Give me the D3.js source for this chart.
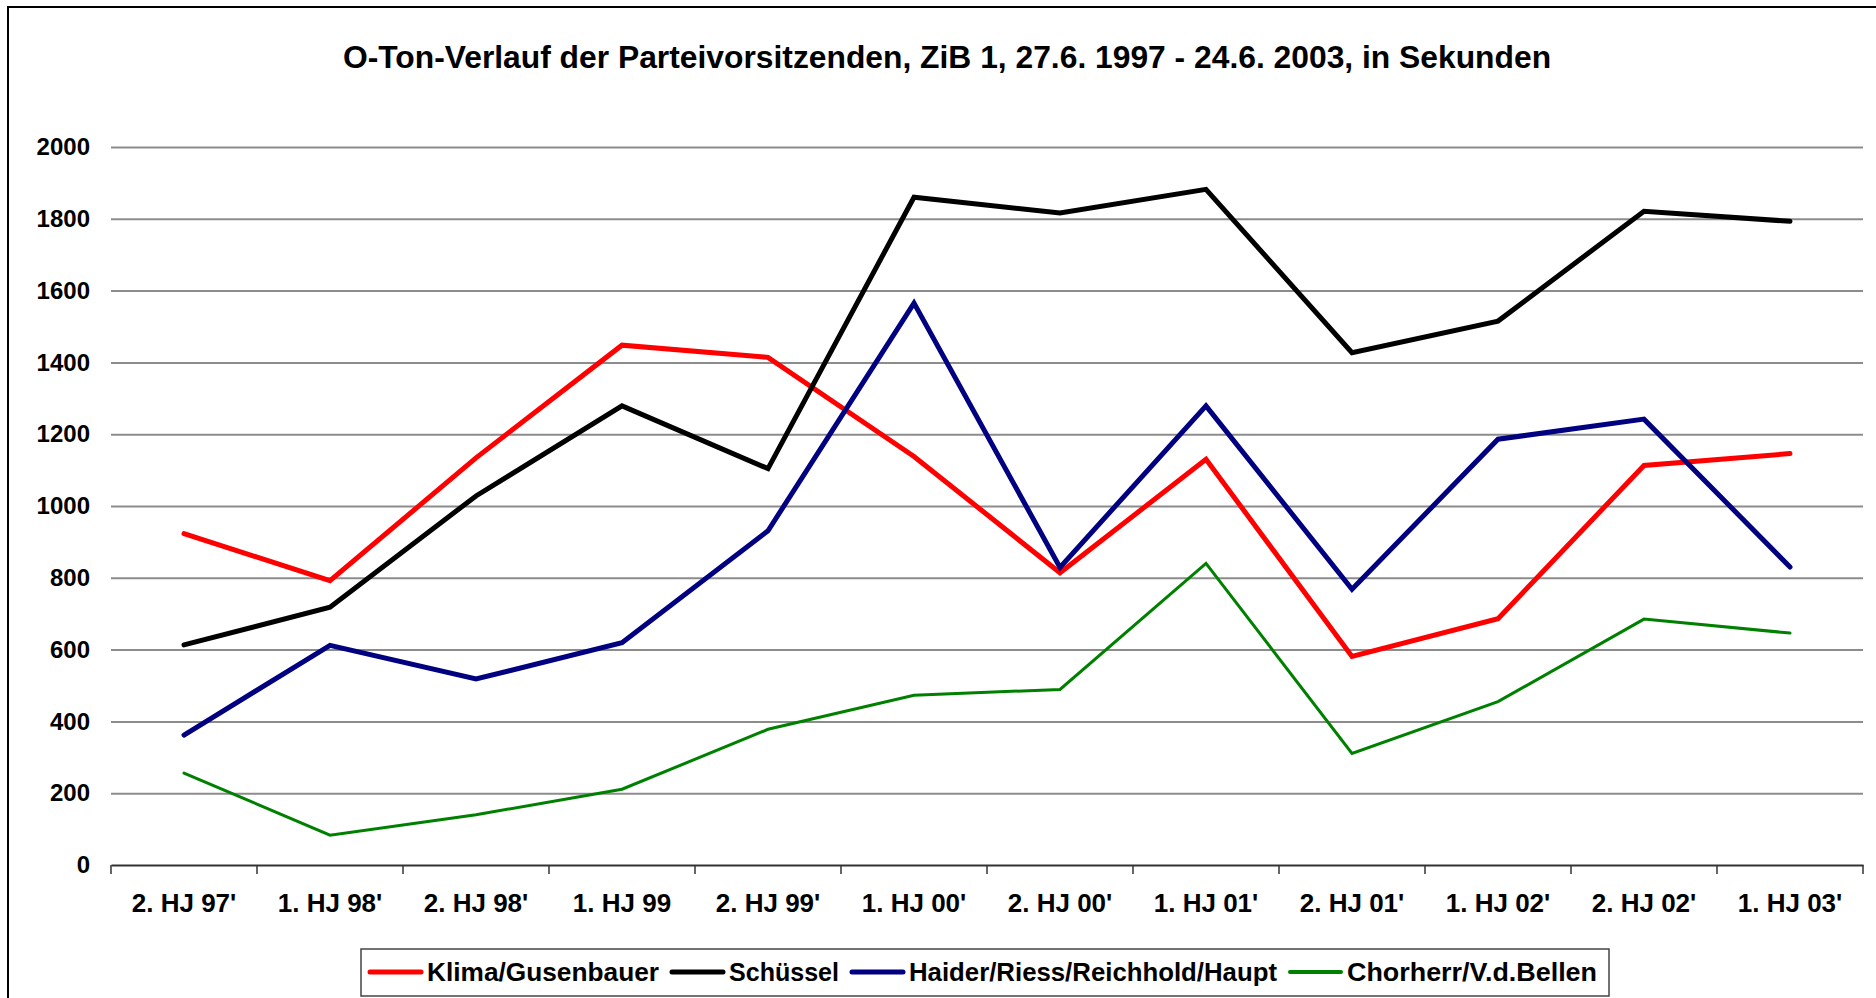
<!DOCTYPE html>
<html>
<head>
<meta charset="utf-8">
<script src="https://cdn.jsdelivr.net/npm/d3@7"></script>
<style>
  html, body { margin: 0; padding: 0; background: #fff; }
  svg { display: block; font-family: "Liberation Sans", Arial, sans-serif; }
</style>
</head>
<body>
<svg id="chart" width="1876" height="998"></svg>
<script>
const title = "O-Ton-Verlauf der Parteivorsitzenden, ZiB 1, 27.6. 1997 - 24.6. 2003, in Sekunden";
const categories = ["2. HJ 97'", "1. HJ 98'", "2. HJ 98'", "1. HJ 99", "2. HJ 99'", "1. HJ 00'", "2. HJ 00'", "1. HJ 01'", "2. HJ 01'", "1. HJ 02'", "2. HJ 02'", "1. HJ 03'"];
const yTicks = [0, 200, 400, 600, 800, 1000, 1200, 1400, 1600, 1800, 2000];

const seriesNames = ["Klima/Gusenbauer", "Schüssel", "Haider/Riess/Reichhold/Haupt", "Chorherr/V.d.Bellen"];
const seriesColors = ["#ff0000", "#000000", "#000080", "#008000"];
const seriesWidths = [5, 5, 5, 3];

const klima    = [923, 792, 1134, 1448, 1414, 1138, 814, 1130, 581, 686, 1113, 1146];
const schuessel = [613, 718, 1028, 1279, 1104, 1860, 1816, 1882, 1427, 1515, 1821, 1793];
const haider   = [362, 612, 518, 619, 931, 1565, 829, 1279, 768, 1186, 1242, 830];
const chorherr = [256, 83, 140, 211, 378, 473, 489, 840, 311, 455, 685, 646];
const seriesValues = [klima, schuessel, haider, chorherr];

(function () {
const svg = d3.select("#chart");

// outer border
svg.append("rect")
  .attr("x", 8).attr("y", 7)
  .attr("width", 1900).attr("height", 1000)
  .attr("fill", "none").attr("stroke", "#000").attr("stroke-width", 2);

const pLeft = 111, pRight = 1863, pTop = 147, pBottom = 865;

const x = d3.scaleBand().domain(categories).range([pLeft, pRight]).padding(0);
const y = d3.scaleLinear().domain([0, 2000]).range([pBottom, pTop]);

// title
svg.append("text")
  .attr("x", 947).attr("y", 68)
  .attr("text-anchor", "middle")
  .attr("font-size", 31.8).attr("font-weight", "bold")
  .attr("fill", "#000")
  .text(title);

// gridlines + y labels
const yAxis = d3.axisLeft(y).tickValues(yTicks).tickFormat(d3.format("d"))
  .tickSize(-(pRight - pLeft)).tickPadding(21);
const gy = svg.append("g").attr("transform", `translate(${pLeft},0)`).call(yAxis);
gy.select(".domain").remove();
gy.selectAll(".tick line")
  .attr("stroke", "#8c8c8c").attr("stroke-width", 2)
  .filter(d => d === 0).remove();
gy.selectAll(".tick text")
  .attr("font-size", 24).attr("font-weight", "bold")
  .attr("fill", "#000")
  .attr("font-family", "Liberation Sans, Arial, sans-serif");

// x axis: labels
const xAxis = d3.axisBottom(x).tickSize(0).tickPadding(29);
const gx = svg.append("g").attr("transform", `translate(0,${pBottom})`).call(xAxis);
gx.select(".domain").attr("stroke", "#333").attr("stroke-width", 2);
gx.selectAll(".tick text")
  .attr("font-size", 26).attr("font-weight", "bold")
  .attr("fill", "#000")
  .attr("font-family", "Liberation Sans, Arial, sans-serif");

// x tick marks at band boundaries
const boundaries = categories.map(c => x(c)).concat([x(categories[categories.length - 1]) + x.bandwidth()]);
svg.append("g").selectAll("line")
  .data(boundaries).join("line")
  .attr("x1", d => d).attr("x2", d => d)
  .attr("y1", pBottom).attr("y2", pBottom + 9)
  .attr("stroke", "#333").attr("stroke-width", 1.5);

// lines
const line = d3.line()
  .x((d, i) => x(categories[i]) + x.bandwidth() / 2)
  .y(d => y(d));

seriesValues.forEach((vals, k) => {
  svg.append("path")
    .datum(vals)
    .attr("d", line)
    .attr("fill", "none")
    .attr("stroke", seriesColors[k])
    .attr("stroke-width", seriesWidths[k])
    .attr("stroke-linejoin", "miter")
    .attr("stroke-linecap", "round");
});

// legend
const legendTextWidths = [232, 110, 368, 250];
const lg = svg.append("g");
lg.append("rect")
  .attr("x", 361).attr("y", 949)
  .attr("width", 1248).attr("height", 47)
  .attr("fill", "#fff").attr("stroke", "#444").attr("stroke-width", 1.5);

let cx = 370;
const ly = 972;
seriesNames.forEach((name, k) => {
  lg.append("line")
    .attr("x1", cx).attr("x2", cx + 51)
    .attr("y1", ly).attr("y2", ly)
    .attr("stroke", seriesColors[k])
    .attr("stroke-width", k === 3 ? 4 : 5)
    .attr("stroke-linecap", "round");
  lg.append("text")
    .attr("x", cx + 57).attr("y", ly + 9)
    .attr("font-size", 26).attr("font-weight", "bold")
    .attr("fill", "#000")
    .attr("textLength", legendTextWidths[k])
    .attr("lengthAdjust", "spacingAndGlyphs")
    .text(name);
  cx = cx + 57 + legendTextWidths[k] + 13;
});
})();
</script>
</body>
</html>
